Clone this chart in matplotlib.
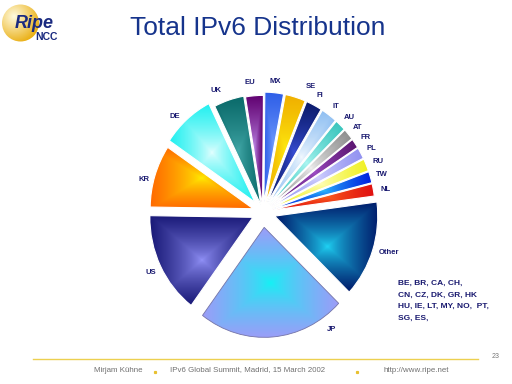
import numpy as np
import matplotlib
matplotlib.use("Agg")
import matplotlib.pyplot as plt
from matplotlib.colors import to_rgb
from matplotlib.patches import Circle

# ---------------- data ----------------
countries = ['MX', 'SE', 'FI', 'IT', 'AU', 'AT', 'FR', 'PL', 'RU', 'TW', 'NL',
             'Other', 'JP', 'US', 'KR', 'DE', 'UK', 'EU']
shares = [10.5, 11.5, 9, 9, 6, 6, 5, 6, 6.5, 6, 6.5,
          51, 83, 54, 33, 29.5, 17, 10]
other_list = "BE, BR, CA, CH,\nCN, CZ, DK, GR, HK\nHU, IE, LT, MY, NO,  PT,\nSG, ES,"
title = "Total IPv6 Distribution"
footer = ["Mirjam Kühne", "IPv6 Global Summit, Madrid, 15 March 2002", "http://www.ripe.net"]
page_no = "23"

# ---------------- styles ----------------
explode = [0.09] * 11 + [0.12, 0.14, 0.11, 0.10, 0.12, 0.07, 0.06]
grad = {  # (centre colour, edge colour)
    'MX': ('#7aa4ff', '#2f5fe8'), 'SE': ('#ffee10', '#f0b000'),
    'FI': ('#3a50d8', '#0a1a6a'), 'IT': ('#f4faff', '#8fbff2'),
    'AU': ('#b0f8f4', '#38c4bc'), 'AT': ('#f2f2f2', '#8c8c8c'),
    'FR': ('#a050c8', '#5a1470'), 'PL': ('#d4d4ff', '#9090f0'),
    'RU': ('#ffffc0', '#f0f020'), 'TW': ('#30c8ff', '#0020e0'),
    'NL': ('#ff6a20', '#e01010'), 'Other': ('#20d8f8', '#001a6a'),
    'JP': ('#10f4f4', '#9c9cf8'), 'US': ('#9494fa', '#1a1a78'),
    'KR': ('#fff000', '#ff6a00'), 'DE': ('#e8ffff', '#20f0f0'),
    'UK': ('#44aaaa', '#0a6a6a'), 'EU': ('#c898f4', '#600070'),
}
# label placement overrides: (radius, degrees clockwise from top)
label_override = {'JP': (1.25, 147.6), 'SE': (1.25, 22.0), 'Other': (1.27, 106.0),
                  'KR': (1.20, 285.0), 'DE': (1.23, 316.0), 'UK': (1.21, 338.0),
                  'EU': (1.20, 354.0)}
navy = '#1a1a70'

W, H = 512, 384
fig = plt.figure(figsize=(W / 100, H / 100), dpi=100)
fig.patch.set_facecolor('white')

# pie axes: centre (263,212) px, Rx=103, Ry=110
cx, cy, Rx, Ry, L = 263, 212, 103, 110, 1.5
ax = fig.add_axes([(cx - L * Rx) / W, (H - cy - L * Ry) / H, 2 * L * Rx / W, 2 * L * Ry / H])
wedges, _ = ax.pie(shares, explode=explode, startangle=89.5, counterclock=False,
                   radius=1.0, wedgeprops=dict(edgecolor='white', linewidth=0.8))

u = np.linspace(-1, 1, 80)
U, V = np.meshgrid(u, u)
T = (np.maximum(np.abs(U), np.abs(V)) ** 0.7)[..., None]
for w, name in zip(wedges, countries):
    cc, ce = (np.array(to_rgb(c)) for c in grad[name])
    img = cc * (1 - T) + ce * T
    v = w.get_path().vertices
    im = ax.imshow(img, extent=(v[:, 0].min(), v[:, 0].max(), v[:, 1].min(), v[:, 1].max()),
                   origin='lower', interpolation='bilinear', aspect='auto', zorder=2)
    im.set_clip_path(w)
    w.set_facecolor('none')
    w.set_zorder(3)
    if name == 'JP':
        w.set_edgecolor('#7474a8')
        w.set_linewidth(0.6)

ax.set_aspect('auto')
ax.set_xlim(-L, L)
ax.set_ylim(-L, L)
ax.axis('off')

for w, name in zip(wedges, countries):
    if name in label_override:
        r, a = label_override[name]
        th = np.deg2rad(90 - a)
    else:
        r = 1.21
        th = np.deg2rad((w.theta1 + w.theta2) / 2)
    ax.text(r * np.cos(th), r * np.sin(th) - 0.015, name, ha='center', va='center',
            fontsize=5.5, fontweight='bold', color=navy, family='Liberation Sans', zorder=5)

# title
fig.text(258 / W, 1 - 28 / H, title, ha='center', va='center', fontsize=19,
         color='#16348c', family='Liberation Sans')

# list of other countries
fig.text(398 / W, 1 - 280 / H, other_list, ha='left', va='top', fontsize=6,
         fontweight='bold', color=navy, family='Liberation Sans', linespacing=1.9)

# logo
lax = fig.add_axes([0 / W, 1 - 45 / H, 64 / W, 45 / H])
lax.set_xlim(0, 64)
lax.set_ylim(45, 0)
lax.axis('off')
g = np.linspace(-1, 1, 100)
GX, GY = np.meshgrid(g, g)
d = np.clip(np.sqrt((GX + 0.35) ** 2 + (GY + 0.35) ** 2) / 1.6, 0, 1)[..., None]
c1, c2 = np.array(to_rgb('#fffbe0')), np.array(to_rgb('#e8a800'))
simg = c1 * (1 - d) + c2 * d
sph = lax.imshow(simg, extent=(2, 39, 42, 4), interpolation='bilinear', aspect='auto')
circ = Circle((20.5, 23), 18.5, transform=lax.transData, facecolor='none', edgecolor='none')
lax.add_patch(circ)
sph.set_clip_path(circ)
lax.text(14.5, 23.5, "Ripe", fontsize=13, fontweight='bold', style='italic', color='#1a2a80',
         family='Liberation Sans', va='center', ha='left')
lax.text(35, 37, "NCC", fontsize=7.5, fontweight='bold', color='#1a2a80',
         family='Liberation Sans', va='center', ha='left')

# footer
fig.add_artist(plt.Line2D([33 / W, 478 / W], [1 - 359 / H, 1 - 359 / H],
                          color='#ecd050', lw=1.0))
fig.text(496 / W, 1 - 357 / H, page_no, ha='center', va='center', fontsize=5,
         color='#777777', family='Liberation Sans')
fx = [94, 170, 383]
for x, s in zip(fx, footer):
    fig.text(x / W, 1 - 370 / H, s, ha='left', va='center', fontsize=5.7,
             color='#707070', family='Liberation Sans')
for x in [155, 357]:
    fig.add_artist(plt.Line2D([x / W], [1 - 372 / H], marker='s', markersize=1.3,
                              color='#e8c030', linestyle='none'))

fig.savefig('out.png', dpi=100, facecolor='white')
